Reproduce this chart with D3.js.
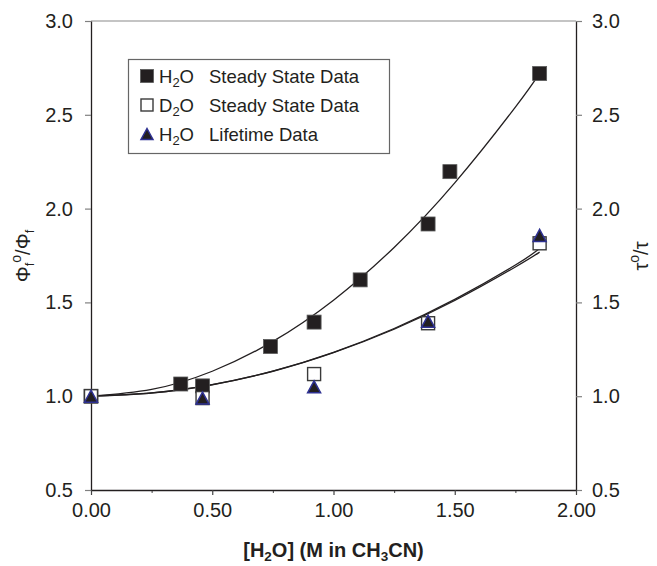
<!DOCTYPE html>
<html><head><meta charset="utf-8">
<script src="https://cdn.jsdelivr.net/npm/d3@7"></script>
<style>body{margin:0;background:#fff}svg{display:block}</style>
</head><body>
<svg id="c" width="657" height="566"></svg>
<script>
// ---- data ----
const xTicks = [0, 0.5, 1.0, 1.5, 2.0];
const xMinorTicks = [0.25, 0.75, 1.25, 1.75];
const yTicks = [0.5, 1.0, 1.5, 2.0, 2.5, 3.0];

const h2oX = [0, 0.37, 0.46, 0.74, 0.92, 1.11, 1.39, 1.48, 1.85];
const h2oY = [1.00, 1.065, 1.055, 1.265, 1.395, 1.62, 1.918, 2.197, 2.72];
const d2oX = [0, 0.46, 0.92, 1.39, 1.85];
const d2oY = [1.00, 0.99, 1.118, 1.389, 1.815];
const lifeX = [0, 0.46, 0.92, 1.39, 1.85];
const lifeY = [1.00, 0.99, 1.05, 1.40, 1.857];

// trendlines
const fitX = [0, 0.25, 0.5, 0.75, 1.0, 1.25, 1.5, 1.75, 1.85];
const fitH2oY = [1.0, 1.036, 1.133, 1.292, 1.512, 1.793, 2.137, 2.541, 2.721];
const fitLifeY = [1.0, 1.017, 1.061, 1.134, 1.234, 1.361, 1.516, 1.699, 1.787];
const fitD2oY = [1.0, 1.0175, 1.062, 1.133, 1.232, 1.357, 1.51, 1.689, 1.768];

const legendItems = [
  {mol: "H", sub: "2", rest: "O", label: "Steady State Data", kind: "filled"},
  {mol: "D", sub: "2", rest: "O", label: "Steady State Data", kind: "open"},
  {mol: "H", sub: "2", rest: "O", label: "Lifetime Data", kind: "tri"}
];

// ---- drawing ----
const svg = d3.select("#c");
const FONT = "'Liberation Sans', Arial, Helvetica, sans-serif";
const TXT = "#231f20";
svg.attr("font-family", FONT);

const x = d3.scaleLinear().domain([0, 2]).range([91, 576]);
const y = d3.scaleLinear().domain([0.5, 3]).range([490, 21]);

// top border
svg.append("line").attr("x1", x(0)).attr("x2", x(2)).attr("y1", y(3)).attr("y2", y(3))
  .attr("stroke", "#8a8a8a").attr("stroke-width", 1.2);

function styleAxis(g, tickColor) {
  g.select(".domain").attr("stroke", TXT).attr("stroke-width", 1.3);
  g.selectAll(".tick line").attr("stroke", tickColor).attr("stroke-width", 1.2);
  g.selectAll(".tick text").attr("fill", TXT).attr("font-size", 20).attr("font-family", FONT);
}

const gl = svg.append("g").attr("transform", `translate(${x(0)},0)`)
  .call(d3.axisLeft(y).tickValues(yTicks).tickSize(6).tickSizeOuter(0).tickPadding(12).tickFormat(d3.format(".1f")));
styleAxis(gl, "#808080");
const gr = svg.append("g").attr("transform", `translate(${x(2)},0)`)
  .call(d3.axisRight(y).tickValues(yTicks).tickSize(6).tickSizeOuter(0).tickPadding(10).tickFormat(d3.format(".1f")));
styleAxis(gr, "#808080");
const gbm = svg.append("g").attr("transform", `translate(0,${y(0.5)})`)
  .call(d3.axisBottom(x).tickValues(xMinorTicks).tickSize(3).tickSizeOuter(0).tickFormat(""));
gbm.select(".domain").remove();
gbm.selectAll(".tick line").attr("stroke", "#555").attr("stroke-width", 1.1);
const gb = svg.append("g").attr("transform", `translate(0,${y(0.5)})`)
  .call(d3.axisBottom(x).tickValues(xTicks).tickSize(5).tickSizeOuter(0).tickPadding(8).tickFormat(d3.format(".2f")));
styleAxis(gb, "#444");

// trendlines
const line = d3.line().x(d => x(d[0])).y(d => y(d[1])).curve(d3.curveNatural);
[[fitH2oY, 1.3], [fitLifeY, 1.3], [fitD2oY, 1.3]].forEach(([ys, w]) => {
  svg.append("path").datum(fitX.map((v, i) => [v, ys[i]])).attr("d", line)
    .attr("fill", "none").attr("stroke", TXT).attr("stroke-width", w);
});

// markers
function filledSq(g, cx, cy, s) {
  g.append("rect").attr("x", cx - s / 2).attr("y", cy - s / 2).attr("width", s).attr("height", s)
    .attr("fill", "#231f20").attr("stroke", "#5a5a5a").attr("stroke-width", 0.8);
}
function openSq(g, cx, cy, s) {
  g.append("rect").attr("x", cx - s / 2).attr("y", cy - s / 2).attr("width", s).attr("height", s)
    .attr("fill", "#fff").attr("stroke", "#3a3a3a").attr("stroke-width", 1.4);
}
function tri(g, cx, cy, w, h) {
  g.append("path").attr("d", `M${cx},${cy - h / 2}L${cx + w / 2},${cy + h / 2}L${cx - w / 2},${cy + h / 2}Z`)
    .attr("fill", "#231f20").attr("stroke", "#2e3192").attr("stroke-width", 1.5).attr("stroke-linejoin", "miter");
}
const gm = svg.append("g");
h2oX.forEach((v, i) => filledSq(gm, x(v), y(h2oY[i]), 14));
d2oX.forEach((v, i) => openSq(gm, x(v), y(d2oY[i]), 13));
lifeX.forEach((v, i) => tri(gm, x(v), y(lifeY[i]), 13, 12));

// legend
const lg = svg.append("g");
lg.append("rect").attr("x", 128.5).attr("y", 59.5).attr("width", 261).attr("height", 94)
  .attr("fill", "#fff").attr("stroke", "#666").attr("stroke-width", 1.2);
const rowY = [76, 105, 134];
legendItems.forEach((it, i) => {
  const cy = rowY[i];
  if (it.kind === "filled") filledSq(lg, 147, cy, 13);
  else if (it.kind === "open") openSq(lg, 147, cy, 12);
  else tri(lg, 147, cy, 12, 11);
  const t = lg.append("text").attr("x", 159).attr("y", cy + 6.5).attr("font-size", 18.5).attr("fill", TXT);
  t.append("tspan").text(it.mol);
  t.append("tspan").attr("font-size", 13).attr("dy", 4).text(it.sub);
  t.append("tspan").attr("dy", -4).text(it.rest);
  lg.append("text").attr("x", 209).attr("y", cy + 6.5).attr("font-size", 18.5).attr("fill", TXT).text(it.label);
});

// x title
const xt = svg.append("text").attr("x", (x(0) + x(2)) / 2).attr("y", 557).attr("text-anchor", "middle")
  .attr("font-size", 20).attr("font-weight", "bold").attr("fill", TXT);
xt.append("tspan").text("[H");
xt.append("tspan").attr("font-size", 13.5).attr("dy", 4).text("2");
xt.append("tspan").attr("dy", -4).text("O] (M in CH");
xt.append("tspan").attr("font-size", 13.5).attr("dy", 4).text("3");
xt.append("tspan").attr("dy", -4).text("CN)");

// left title
const ylt = svg.append("text").attr("transform", "translate(30,256) rotate(-90)").attr("text-anchor", "middle")
  .attr("font-size", 20).attr("fill", TXT);
ylt.append("tspan").text("Φ");
ylt.append("tspan").attr("font-size", 13).attr("dy", 4).text("f");
ylt.append("tspan").attr("font-size", 14).attr("dy", -13).text("o");
ylt.append("tspan").attr("dy", 9).text("/Φ");
ylt.append("tspan").attr("font-size", 13).attr("dy", 4).text("f");

// right title
const yrt = svg.append("text").attr("transform", "translate(648,256) rotate(-90)").attr("text-anchor", "middle")
  .attr("font-size", 20).attr("fill", TXT);
yrt.append("tspan").text("τ");
yrt.append("tspan").attr("font-size", 14).attr("dy", -9).text("o");
yrt.append("tspan").attr("dy", 9).text("/τ");
</script>
</body></html>
